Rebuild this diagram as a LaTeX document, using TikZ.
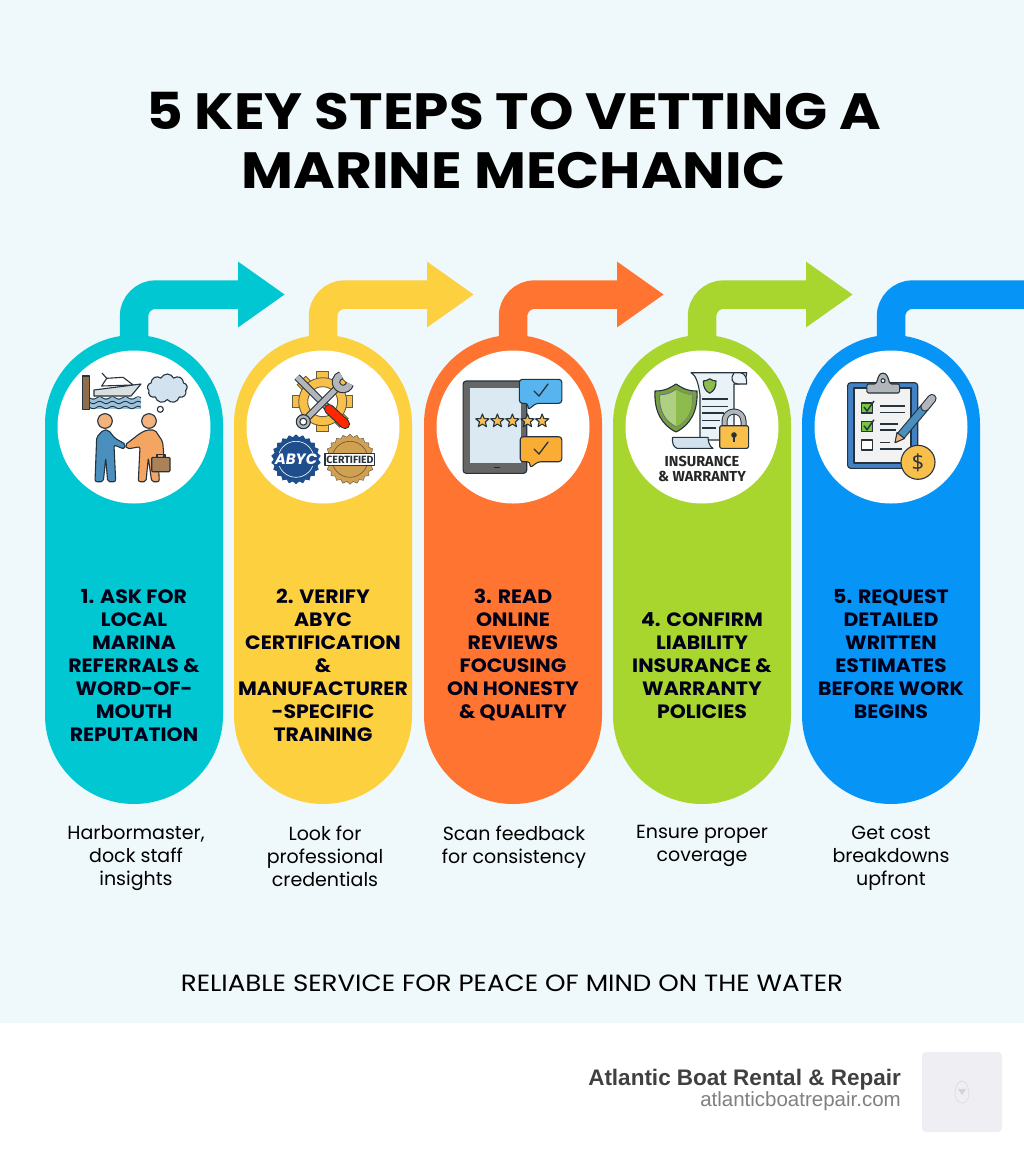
\documentclass[tikz,border=0pt]{standalone}
\usepackage{fontspec}
\setmainfont{Poppins}
\newfontfamily\titleface{Poppins}[FakeStretch=1.11]
\newfontfamily\stepface{Poppins}[FakeStretch=1.06]
\newfontfamily\bodyfont{Open Sans}
\newfontfamily\footfont{Liberation Sans}
\newfontfamily\iconfont{Fira Sans}
\usetikzlibrary{arrows.meta,shapes.geometric,shapes.symbols}
\definecolor{VTeal}{HTML}{00C7D1}
\definecolor{VYellow}{HTML}{FDD03F}
\definecolor{VOrange}{HTML}{FF7430}
\definecolor{VGreen}{HTML}{A8D62F}
\definecolor{VBlue}{HTML}{0794F7}
\definecolor{VPale}{HTML}{EFF8FB}
\definecolor{VInk}{HTML}{26323C}
\definecolor{VSteel}{HTML}{4A8FBE}
\definecolor{VPeach}{HTML}{F3B37E}
\definecolor{VCoat}{HTML}{F5A562}
\definecolor{VAmber}{HTML}{F8C04A}
\definecolor{VBrown}{HTML}{A9825A}
\definecolor{VGrey}{HTML}{B2B6BA}
\definecolor{VNavy}{HTML}{1F4E8C}
\definecolor{VLeaf}{HTML}{8DBB4E}
\definecolor{VSky}{HTML}{58B4EE}
\definecolor{VSlip}{HTML}{EEEEF3}
\tikzset{
    pill/.style = {rectangle, rounded corners=89pt, minimum width=178pt,
        minimum height=469pt, inner sep=0pt},
    disc/.style = {circle, fill=white, minimum size=153pt, inner sep=0pt},
    flow/.style = {line width=28.5pt, rounded corners=22pt, shorten <=-10pt},
    head/.style = {-{Triangle[length=47pt,width=62.5pt]}},
    steplabel/.style = {align=center, text=black!90!blue, inner sep=0pt,
        font=\stepface\fontsize{19.3}{23}\selectfont\bfseries},
    caption/.style = {align=center, anchor=north, inner sep=0pt,
        font=\fontsize{19}{23}\selectfont,
        execute at begin node={\rule{0pt}{17pt}}},
    ink/.style = {draw=VInk, line width=1.1pt, line join=round},
    rule/.style = {draw=VInk, line width=1.3pt, line cap=round},
    tube/.style = {draw=VInk, line width=1.1pt, double=#1, double distance=5pt},
    rating/.style = {star, star points=5, star point ratio=2.3, inner sep=0pt,
        minimum size=14pt, ink, fill=VAmber}
}
\newcommand{\shieldshape}{(0,-24) .. controls (9,-18) and (14,-17) .. (21,-17)
    .. controls (22,4) and (14,17) .. (0,24) .. controls (-14,17) and (-22,4) .. (-21,-17)
    .. controls (-14,-17) and (-9,-18) .. (0,-24) -- cycle}
\begin{document}
\begin{tikzpicture}[x=1pt,y=-1pt]
  \useasboundingbox (0,0) rectangle (1024,1154);
  \fill[VPale] (0,0) rectangle (1024,1023);
  \fill[white] (0,1023) rectangle (1024,1154);

  \node[font=\titleface\fontsize{51}{59}\selectfont\bfseries,align=center,inner sep=0pt] (title) at (513.5,140)
    {5 KEY STEPS TO VETTING A\\MARINE MECHANIC};

  % the five columns
  \foreach \n/\c/\col in {1/134/VTeal,2/323/VYellow,3/513/VOrange,4/702/VGreen,5/891/VBlue}{
    \node[pill,fill=\col] (pill\n) at (\c,569.5) {};
    \node[disc] (disc\n) at (\c,427) {};
  };
  \foreach \n/\t/\col in {1/285/VTeal,2/474/VYellow,3/664/VOrange,4/853/VGreen}{
    \coordinate (tip\n) at (\t,294.5);
    \draw[flow,head,\col] (pill\n.north) |- (tip\n);
  };
  \coordinate (exit5) at (1024,294.5);
  \draw[flow,VBlue] (pill5.north) |- (exit5);

  % step titles
  \node[steplabel] (label1) at (134,665.5) {1. ASK FOR\\LOCAL\\MARINA\\REFERRALS \&\\WORD-OF-\\MOUTH\\REPUTATION};
  \node[steplabel] (label2) at (323,665.5) {2. VERIFY\\ABYC\\CERTIFICATION\\\&\\MANUFACTURER\\-SPECIFIC\\TRAINING};
  \node[steplabel] (label3) at (513,654.5) {3. READ\\ONLINE\\REVIEWS\\FOCUSING\\ON HONESTY\\\& QUALITY};
  \node[steplabel] (label4) at (702,665.5) {4. CONFIRM\\LIABILITY\\INSURANCE \&\\WARRANTY\\POLICIES};
  \node[steplabel] (label5) at (891,654.5) {5. REQUEST\\DETAILED\\WRITTEN\\ESTIMATES\\BEFORE WORK\\BEGINS};

  % notes under the columns
  \node[caption] (note1) at (136,825.5) {Harbormaster,\\dock staff\\insights};
  \node[caption] (note2) at (325,825.5) {Look for\\professional\\credentials};
  \node[caption] (note3) at (514,825.5) {Scan feedback\\for consistency};
  \node[caption] (note4) at (702,825.5) {Ensure proper\\coverage};
  \node[caption] (note5) at (891,825.5) {Get cost\\breakdowns\\upfront};

  \node[font=\titleface\fontsize{23.5}{26}\selectfont,inner sep=0pt] (motto) at (512,983)
    {RELIABLE SERVICE FOR PEACE OF MIND ON THE WATER};

  % footer
  \node[anchor=east,inner sep=0pt,text=black!75,font=\footfont\fontsize{22.5}{28}\selectfont\bfseries] (brand) at (901,1079.5) {Atlantic Boat Rental \& Repair};
  \node[anchor=east,inner sep=0pt,text=black!50,font=\footfont\fontsize{20.5}{24}\selectfont] (site) at (901,1101.5) {atlanticboatrepair.com};
  \fill[VSlip,rounded corners=4pt] (922,1052) rectangle (1002,1132);
  \draw[black!13,line width=.7pt] (962,1081) .. controls (968,1081) and (969,1092) .. (969,1094)
    .. controls (969,1100) and (965,1103) .. (962,1103) .. controls (959,1103) and (955,1100) .. (955,1094)
    .. controls (955,1092) and (956,1081) .. (962,1081) -- cycle;
  \fill[black!17] (958,1089) -- (966,1089) -- (962,1095) -- cycle;

  % icon 1: boat, cloud and handshake
  \filldraw[ink,fill=VBrown!85!black] (82.3,376) rectangle (89.3,409.3);
  \fill[VSteel!55] (90,397.5) rectangle (141,409);
  \foreach \y in {398,402.5,407.5}{
    \draw[VInk,line width=.9pt] plot[domain=90:141,samples=40] (\x,{\y+1.2*sin(\x*28)});
  };
  \filldraw[ink,fill=white] (101.7,386) -- (106.7,378.3) -- (123,377.3) -- (133.3,385) -- cycle;
  \draw[ink] (102,373) -- (106.7,378.3);
  \filldraw[ink,fill=VPale!80!gray] (94,390) -- (141,384) -- (131,396) -- (94,396) -- cycle;
  \node[cloud,cloud puffs=9,cloud puff arc=130,ink,fill=VSteel!25,minimum width=40pt,minimum height=29pt,inner sep=0pt] (thought) at (167.3,388.5) {};
  \node[circle,ink,fill=white,minimum size=6pt,inner sep=0pt] (puff) at (160.3,409.3) {};
  \filldraw[ink,fill=VSteel,rounded corners=2pt] (96.7,437) -- (103.3,430) -- (108.3,430) -- (115,438.3)
    -- (125.7,444.3) -- (124,449) -- (114,445) -- (115.7,481.7) -- (107.7,481.7) -- (105.7,458.3)
    -- (103.3,481.7) -- (95,481.7) -- cycle;
  \filldraw[ink,fill=VCoat,rounded corners=2pt] (125,445) -- (140,433.3) -- (146.7,430) -- (155,430)
    -- (162.7,441.7) -- (164,458) -- (158.3,460) -- (159.3,481.7) -- (151.7,481.7) -- (148.3,458)
    -- (146,481.7) -- (138.3,481.7) -- (140,446.7) -- (127.3,449) -- cycle;
  \filldraw[ink,fill=VPeach] (105,421) circle (7.3);
  \filldraw[ink,fill=VPeach] (149,421) circle (7.3);
  \draw[ink] (157,457.3) -- (157,454.5) -- (165,454.5) -- (165,457.3);
  \filldraw[ink,fill=VBrown,rounded corners=1pt] (151.7,457.3) rectangle (170,471.7);

  % icon 2: gear, tools and badges
  \begin{scope}[shift={(322.7,401.7)}]
    \foreach \a in {0,45,...,315}{
      \filldraw[draw=VInk!70!VAmber,fill=VAmber,line width=.9pt,rotate=\a] (-6,-30) rectangle (6,-20);
    };
    \filldraw[draw=VInk!70!VAmber,fill=VAmber,line width=.9pt] (0,0) circle (24);
    \filldraw[draw=VInk!70!VAmber,fill=white,line width=.9pt] (0,0) circle (15);
  \end{scope}
  \draw[tube=VGrey] (297,377) -- (326.7,406.7);
  \draw[ink,line width=1.1pt,double=red!70!orange,double distance=8pt,line cap=round] (329,409) -- (345,424);
  \draw[tube=VGrey] (308,417) -- (338,387);
  \draw[VInk,line width=8.5pt] (349.8,383.8) arc[start angle=15,end angle=255,radius=7];
  \draw[VGrey,line width=6.3pt] (349.8,383.8) arc[start angle=15,end angle=255,radius=7];
  \filldraw[ink,fill=VGrey] (303.3,421.7) circle (7);
  \filldraw[ink,fill=white] (303.3,421.7) circle (3.5);
  \node[star,star points=22,star point ratio=1.12,fill=VNavy,inner sep=0pt,minimum size=50pt] (abycbadge) at (296,459.3) {};
  \draw[white,line width=.6pt] (296,459.3) circle (18);
  \node[text=white,fill=VNavy,inner sep=1pt,font=\fontsize{15}{15}\selectfont\bfseries\itshape] (abyctext) at (296,459.5) {ABYC};
  \node[star,star points=22,star point ratio=1.12,draw=VInk!60!VBrown,fill=VAmber!50!VBrown,inner sep=0pt,minimum size=50pt] (certbadge) at (350,459.3) {};
  \draw[VBrown!70!black,line width=.7pt] (350,459.3) circle (18);
  \filldraw[ink,fill=white] (325,453.5) rectangle (374.5,465.5);
  \node[inner sep=0pt,text=VInk,font=\iconfont\fontsize{10.5}{11}\selectfont\bfseries] (certtext) at (350,459.5) {CERTIFIED};

  % icon 3: tablet with reviews
  \filldraw[ink,fill=black!60,rounded corners=3pt] (463.1,381) rectangle (526.7,473.3);
  \fill[VSteel!20] (470,387.7) rectangle (521,463.3);
  \draw[black!85,line width=1.2pt] (494,467.3) -- (500,467.3);
  \filldraw[ink,fill=VSky,rounded corners=3pt] (519.4,379.3) -- (561.8,379.3) -- (561.8,403.3) -- (536,403.3)
    -- (528,410) -- (528,403.3) -- (519.4,403.3) -- cycle;
  \draw[rule] (534,391) -- (539,396) -- (548,384);
  \filldraw[ink,fill=VAmber!70!orange,rounded corners=3pt] (520.2,436.7) -- (561.8,436.7) -- (561.8,461.7) -- (538,461.7)
    -- (530,468) -- (530,461.7) -- (520.2,461.7) -- cycle;
  \draw[rule] (534,449) -- (539,454) -- (548,442);
  \foreach \s/\x in {1/482.4,2/497.4,3/512.4,4/527.5,5/542.1}{
    \node[rating] (star\s) at (\x,421) {};
  };

  % icon 4: policy, shield and lock
  \filldraw[ink,fill=VSteel!12] (691,372.7) -- (746.7,372.7) .. controls (746,380) and (744,384) .. (738,384)
    -- (734,384) -- (734,440) -- (700,440) -- (700,395) .. controls (698,380) and (695,375) .. (691,372.7) -- cycle;
  \filldraw[ink,fill=VSteel!12] (734,372.7) .. controls (730,378) and (732,384) .. (738,384) -- (746.7,384)
    .. controls (747,378) and (745,373) .. (740,372.7) -- cycle;
  \filldraw[ink,fill=VSteel!25] (672.5,437.3) -- (708,437.3) .. controls (708,442) and (710,447) .. (713,448.3)
    -- (677,448.3) .. controls (673,447) and (672,442) .. (672.5,437.3) -- cycle;
  \foreach \y/\e in {399/728,406.7/728,413/724,420.7/720,428/716}{
    \draw[VInk,line width=1.1pt] (702,\y) -- (\e,\y);
  };
  \begin{scope}[shift={(709.7,386)},scale=.3]
    \filldraw[ink,fill=VLeaf] \shieldshape;
  \end{scope}
  \begin{scope}[shift={(676,408)}]
    \filldraw[ink,fill=VLeaf!85!black] \shieldshape;
    \begin{scope}[scale=.78]
      \filldraw[draw=VInk!70,line width=.8pt,fill=VLeaf!70!white] \shieldshape;
      \fill[VLeaf] (0,-24) .. controls (9,-18) and (14,-17) .. (21,-17) .. controls (22,4) and (14,17) .. (0,24) -- cycle;
    \end{scope}
  \end{scope}
  \draw[draw=VInk,line width=6pt] (724.5,426) -- (724.5,421) arc[start angle=180,end angle=360,radius=9.5] -- (743.5,426);
  \draw[draw=VGrey,line width=4pt] (724.5,426) -- (724.5,421) arc[start angle=180,end angle=360,radius=9.5] -- (743.5,426);
  \filldraw[ink,fill=VAmber,rounded corners=1.5pt] (719.7,425.7) rectangle (748.6,448.3);
  \fill[VInk] (734,435) circle (2.8);
  \fill[VInk] (732.6,435) rectangle (735.4,442);
  \node[inner sep=0pt,align=center,text=black!85,font=\iconfont\fontsize{14.5}{15}\selectfont\bfseries] (shieldtext) at (702,469) {INSURANCE\\\& WARRANTY};

  % icon 5: clipboard, pen and coin
  \filldraw[ink,fill=VSteel!90!blue,rounded corners=3pt] (847.6,382.7) rectangle (917.7,468.3);
  \filldraw[ink,fill=black!5] (854,388) rectangle (911,463);
  \filldraw[ink,fill=VGrey,rounded corners=1.5pt] (866.8,393) -- (866.8,384) -- (876,384) -- (878,378) .. controls (880,372) and (886,372) .. (888,378) -- (890,384) -- (899.6,384) -- (899.6,393) -- cycle;
  \filldraw[ink,fill=white] (883,380.7) circle (2);
  \foreach \y in {403,421.7}{
    \filldraw[ink,fill=VLeaf!85!green] (861.8,\y) rectangle +(10.8,10);
    \draw[VInk,line width=1.4pt] (864,\y+4) -- (867,\y+8) -- (874,\y-2);
  };
  \filldraw[ink,fill=white] (861.8,440) rectangle +(10.8,10);
  \foreach \y/\e in {406/905.4,412.3/905.4,424/898,430/895.7}{
    \draw[VInk,line width=1.4pt] (880.3,\y) -- (\e,\y);
  };
  \draw[VInk,line width=1.4pt] (880.3,442.7) -- (890,442.7);
  \draw[VInk,line width=1.4pt] (880.3,449) -- (902,449);
  \draw[ink,double=VSteel,double distance=7pt] (901,435.5) -- (925,407);
  \draw[ink,double=VGrey,double distance=7pt,line cap=round] (925,407) -- (932,398.5);
  \filldraw[ink,fill=VPeach] (895,442.7) -- (897,432.5) -- (904.5,438.5) -- cycle;
  \node[circle,ink,fill=VAmber,minimum size=34pt,inner sep=0pt,font=\bodyfont\fontsize{22}{22}\selectfont,text=VInk] (coin) at (918,462.3) {\$};
\end{tikzpicture}
\end{document}
